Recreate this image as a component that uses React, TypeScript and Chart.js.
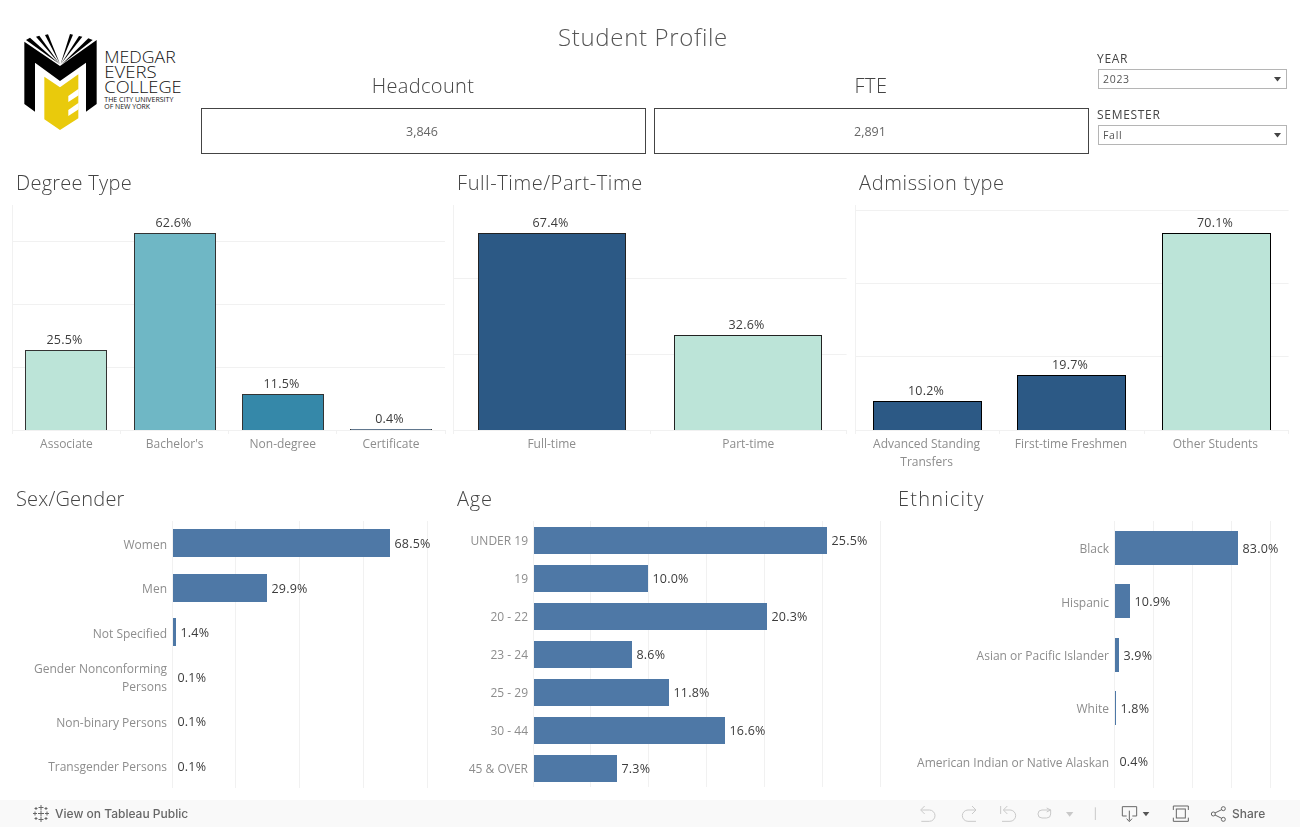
import React, { useEffect, useRef } from "react";
import { Chart, registerables } from "chart.js";

Chart.register(...registerables);

const FONT = '"Open Sans", sans-serif';
const GRID = "#f1f1f1";
const TICK = "#8d8d8d";
const VALUE = "#3c3c3c";
const MINT = "#bce4d8";
const TEAL = "#6fb7c5";
const OCEAN = "#3588a9";
const NAVY = "#2c5985";
const BLUE = "#4e78a6";

const headcountValue = "3,846";
const fteValue = "2,891";
const yearValue = "2023";
const semesterValue = "Fall";

const degreeLabels = ["Associate", "Bachelor's", "Non-degree", "Certificate"];
const degreeValues = [25.5, 62.6, 11.5, 0.4];
const degreeColors = [MINT, TEAL, OCEAN, NAVY];

const loadLabels = ["Full-time", "Part-time"];
const loadValues = [67.4, 32.6];
const loadColors = [NAVY, MINT];

const admissionLabels = [["Advanced Standing", "Transfers"], "First-time Freshmen", "Other Students"];
const admissionValues = [10.2, 19.7, 70.1];
const admissionColors = [NAVY, NAVY, MINT];

const genderLabels = ["Women", "Men", "Not Specified", ["Gender Nonconforming", "Persons"], "Non-binary Persons", "Transgender Persons"];
const genderValues = [68.5, 29.9, 1.4, 0.1, 0.1, 0.1];

const ageLabels = ["UNDER 19", "19", "20 - 22", "23 - 24", "25 - 29", "30 - 44", "45 & OVER"];
const ageValues = [25.5, 10.0, 20.3, 8.6, 11.8, 16.6, 7.3];

const ethnicityLabels = ["Black", "Hispanic", "Asian or Pacific Islander", "White", "American Indian or Native Alaskan"];
const ethnicityValues = [83.0, 10.9, 3.9, 1.8, 0.4];

type BarProps = {
  labels: any[];
  values: number[];
  colors: string | string[];
  horizontal?: boolean;
  max: number;
  step: number;
  thickness: number;
  border?: string;
  shift?: number;
  left: number;
  top: number;
  width: number;
  height: number;
  plotLeft: number;
  plotTop: number;
  plotRight: number;
  plotBottom: number;
};

const valueLabels = {
  id: "valueLabels",
  beforeDatasetsDraw(chart: any) {
    const horizontal = chart.options.indexAxis === "y";
    chart.getDatasetMeta(0).data.forEach((el: any) => {
      el.base = Math.round(el.base);
      if (horizontal) {
        el.x = Math.max(el.base, Math.floor(el.x));
        el.y = Math.round(el.y - el.height / 2) + el.height / 2;
      } else {
        el.y = Math.round(el.y);
        el.x = Math.round(el.x - el.width / 2) + el.width / 2;
      }
    });
  },
  afterDatasetsDraw(chart: any) {
    const { ctx } = chart;
    const horizontal = chart.options.indexAxis === "y";
    const values = chart.data.datasets[0].data as number[];
    const elements = chart.getDatasetMeta(0).data;
    ctx.save();
    ctx.font = `12.5px ${FONT}`;
    ctx.letterSpacing = "0.2px";
    ctx.fillStyle = VALUE;
    elements.forEach((el: any, i: number) => {
      const text = `${values[i].toFixed(1)}%`;
      if (horizontal) {
        ctx.textAlign = "left";
        ctx.textBaseline = "middle";
        ctx.fillText(text, el.x + 4.5, el.y + 1);
      } else {
        ctx.textAlign = "center";
        ctx.textBaseline = "bottom";
        ctx.fillText(text, el.x - 1.5, el.y - 3.5);
      }
    });
    ctx.restore();
  },
};

function BarChart(p: BarProps) {
  const ref = useRef<HTMLCanvasElement>(null);
  useEffect(() => {
    const axisFont = { family: FONT, size: 12, lineHeight: 1.5 };
    const buildTicks = (scale: any) => {
      const out: { value: number }[] = [];
      for (let i = 0; i * p.step <= p.max + 0.001; i++) out.push({ value: i * p.step });
      scale.ticks = out;
    };
    const noPadding = (scale: any) => {
      scale.paddingLeft = 0;
      scale.paddingRight = 0;
      scale.paddingTop = 0;
      scale.paddingBottom = 0;
    };
    const fixWidth = (scale: any) => {
      scale.width = p.plotLeft - p.left;
      noPadding(scale);
    };
    const fixHeight = (scale: any) => {
      scale.height = p.top + p.height - p.plotBottom;
      noPadding(scale);
    };
    const valueAxis: any = {
      type: "linear",
      min: 0,
      max: p.max,
      afterBuildTicks: buildTicks,
      ticks: { display: false },
      grid: { color: GRID, drawTicks: false },
      border: { display: !p.horizontal, color: GRID },
    };
    const categoryAxis: any = {
      type: "category",
      offset: true,
      ticks: {
        color: TICK,
        font: axisFont,
        autoSkip: false,
        maxRotation: 0,
        padding: p.horizontal ? 5 : 2,
        labelOffset: p.horizontal ? 2 : p.shift ?? 0,
      },
      grid: p.horizontal
        ? { display: false, drawTicks: false }
        : { offset: true, drawOnChartArea: false, color: GRID, tickLength: 4 },
      border: { display: !p.horizontal, color: GRID },
    };
    const x = p.horizontal ? { ...valueAxis, afterFit: fixHeight } : { ...categoryAxis, afterFit: fixHeight };
    const y = p.horizontal ? { ...categoryAxis, afterFit: fixWidth } : { ...valueAxis, afterFit: fixWidth };
    const chart = new Chart(ref.current!, {
      type: "bar",
      data: {
        labels: p.labels,
        datasets: [
          {
            data: p.values,
            backgroundColor: p.colors,
            borderColor: p.border ?? "transparent",
            borderWidth: p.border ? 1 : 0,
            barThickness: p.thickness,
            inflateAmount: 0,
          },
        ],
      },
      options: {
        indexAxis: p.horizontal ? "y" : "x",
        animation: false,
        responsive: false,
        layout: {
          padding: {
            left: 0,
            top: p.plotTop - p.top,
            right: p.left + p.width - p.plotRight,
            bottom: 0,
          },
        },
        plugins: { legend: { display: false }, tooltip: { enabled: false }, title: { display: false } },
        scales: { x, y },
      } as any,
      plugins: [valueLabels],
    });
    return () => chart.destroy();
  }, []);
  return (
    <canvas
      ref={ref}
      width={p.width}
      height={p.height}
      style={{ position: "absolute", left: p.left, top: p.top, width: p.width, height: p.height }}
    />
  );
}

function Txt(props: { x: number; y: number; size: number; color?: string; weight?: number; center?: boolean; children: any; font?: string; ls?: number }) {
  const { x, y, size, color = "#444", weight = 300, center, children, font = FONT, ls = 0 } = props;
  return (
    <div
      style={{
        position: "absolute",
        left: x,
        top: y,
        transform: center ? "translate(-50%,-50%)" : "translateY(-50%)",
        willChange: "transform",
        fontFamily: font,
        fontSize: size,
        color,
        fontWeight: weight,
        letterSpacing: ls,
        lineHeight: 1.2,
        whiteSpace: "nowrap",
      }}
    >
      {children}
    </div>
  );
}

function Box(props: { left: number; top: number; width: number; height: number; border: string }) {
  const { left, top, width, height, border } = props;
  return <div style={{ position: "absolute", left, top, width, height, boxSizing: "border-box", border: `1px solid ${border}` }} />;
}

function Dropdown(props: { label: string; value: string; y: number }) {
  const { label, value, y } = props;
  return (
    <>
      <Txt x={1097} y={y} size={12} color="#444" weight={400} ls={0.7}>{label}</Txt>
      <Box left={1098} top={y + 10} width={189} height={20} border="#b5b5b5" />
      <Txt x={1103} y={y + 20} size={10.5} color="#555" weight={400} ls={0.7}>{value}</Txt>
      <svg style={{ position: "absolute", left: 1274, top: y + 18 }} width={8} height={5}>
        <polygon points="0,0 7,0 3.5,4.5" fill="#444" />
      </svg>
    </>
  );
}

function Logo() {
  const rays = [
    "48,30 60,23 148,102",
    "78,20 88,17 149,102",
    "105,15 114,13 150,102",
    "180,12 189,14 152,102",
    "207,18 217,20 153,102",
    "235,25 248,30 154,104",
  ];
  const word = { fontFamily: FONT, fontWeight: 300, fill: "#111" };
  return (
    <svg style={{ position: "absolute", left: 0, top: 0 }} width={200} height={140}>
      <g transform="translate(10,30) scale(0.33333)">
        {rays.map((r) => (
          <polygon key={r} points={r} fill="#000" />
        ))}
        <polygon points="43,35 150,108 260,30 260,222 228,245 228,98 150,153 75,98 75,245 43,222" fill="#000" />
        <polygon points="103,140 150,172 205,133 205,265 150,300 103,268" fill="#e9ca0c" />
        <polygon points="206,176 175,198 175,216 206,196" fill="#fff" />
        <polygon points="206,218 175,240 175,258 206,238" fill="#fff" />
        <text x={283} y={98} fontSize={50} textLength={214} lengthAdjust="spacingAndGlyphs" {...word}>MEDGAR</text>
        <text x={283} y={144} fontSize={50} textLength={157} lengthAdjust="spacingAndGlyphs" {...word}>EVERS</text>
        <text x={283} y={190} fontSize={50} textLength={232} lengthAdjust="spacingAndGlyphs" {...word}>COLLEGE</text>
        <text x={283} y={216} fontSize={20} textLength={207} lengthAdjust="spacingAndGlyphs" {...word} fontWeight={400}>THE CITY UNIVERSITY</text>
        <text x={283} y={238} fontSize={20} textLength={137} lengthAdjust="spacingAndGlyphs" {...word} fontWeight={400}>OF NEW YORK</text>
      </g>
    </svg>
  );
}

function Toolbar() {
  const plus = [
    [41, 813.5, 3], [41, 807.5, 2.5], [41, 819.5, 2.5], [35, 813.5, 2], [47, 813.5, 2],
    [36, 808.5, 1.5], [46, 808.5, 1.5], [36, 818.5, 1.5], [46, 818.5, 1.5],
  ];
  const faint = { fill: "none", stroke: "#c9c9c9", strokeWidth: 3 };
  const dark = { fill: "none", stroke: "#666", strokeWidth: 3 };
  return (
    <>
      <div style={{ position: "absolute", left: 0, top: 800, width: 1300, height: 27, background: "#f9f9f9" }} />
      <svg style={{ position: "absolute", left: 0, top: 790 }} width={1300} height={37} viewBox="0 790 1300 37">
        {plus.map(([x, y, r]) => (
          <path key={`${x}-${y}`} d={`M${x - r} ${y}H${x + r}M${x} ${y - r}V${y + r}`} stroke="#666" strokeWidth={1} fill="none" />
        ))}
        <g transform="translate(880,790) scale(0.33333)">
          <path d="M124 60H148A17 17 0 0 1 148 94H124M134 48L122 60L134 72" {...faint} />
          <path d="M288 60H264A17 17 0 0 0 264 94H288M276 48L288 60L276 72" {...faint} />
          <path d="M372 60H390A17 17 0 0 1 390 94H366M382 48L370 60L382 72M362 48V72" {...faint} />
          <path d="M512 60H486A12 12 0 0 0 486 84H500A12 12 0 0 0 512 72V60M500 54L512 60L500 66" {...faint} />
          <polygon points="558,66 580,66 569,80" fill="#c9c9c9" />
          <path d="M646 52V90" {...faint} />
          <path d="M740 78H727V50H770V78H757M748 62V92M740 86L748 95L756 86" {...dark} />
          <polygon points="788,66 808,66 798,79" fill="#555" />
          <path d="M880 60V48H925V60M880 83V94H925V83" {...dark} />
          <rect x={889} y={57} width={27} height={27} {...dark} />
          <circle cx={1000} cy={72} r={6} {...dark} />
          <circle cx={1030} cy={56} r={6} {...dark} />
          <circle cx={1030} cy={88} r={6} {...dark} />
          <path d="M1005 69L1025 59M1005 75L1025 85" {...dark} />
        </g>
      </svg>
      <Txt x={55} y={814} size={12} color="#666" weight={500} font="Inter, sans-serif">View on Tableau Public</Txt>
      <Txt x={1232} y={814} size={12} color="#666" weight={500} font="Inter, sans-serif">Share</Txt>
    </>
  );
}

export default function App() {
  useEffect(() => {
    document.body.style.margin = "0";
  }, []);
  return (
    <div style={{ position: "absolute", left: 0, top: 0, width: 1300, height: 827, overflow: "hidden", background: "#fff" }}>
      <Logo />
      <Txt x={643} y={37} size={24} center color="#555" ls={0.67}>Student Profile</Txt>
      <Txt x={423} y={86} size={20} center color="#444" ls={0.33}>Headcount</Txt>
      <Txt x={871} y={86} size={20} center color="#444" ls={0.5}>FTE</Txt>
      <Box left={201} top={108} width={445} height={46} border="#444" />
      <Box left={654} top={108} width={435} height={46} border="#444" />
      <Txt x={422} y={131} size={12.5} center color="#666" weight={400}>{headcountValue}</Txt>
      <Txt x={870} y={131} size={12.5} center color="#666" weight={400}>{fteValue}</Txt>
      <Dropdown label="YEAR" value={yearValue} y={59} />
      <Dropdown label="SEMESTER" value={semesterValue} y={115} />

      <Txt x={16} y={183} size={20} ls={0.27}>Degree Type</Txt>
      <Txt x={457} y={183} size={20} ls={0.58}>Full-Time/Part-Time</Txt>
      <Txt x={859} y={183} size={20} ls={0.64}>Admission type</Txt>
      <Txt x={16} y={499} size={20} ls={0.2}>Sex/Gender</Txt>
      <Txt x={457} y={499} size={20} ls={0.75}>Age</Txt>
      <Txt x={898} y={499} size={20} ls={1.2}>Ethnicity</Txt>

      <BarChart labels={degreeLabels} values={degreeValues} colors={degreeColors} max={71.5} step={20} thickness={82} border="#333"
        left={0} top={200} width={450} height={272} plotLeft={12.4} plotTop={205} plotRight={445} plotBottom={430} />
      <BarChart labels={loadLabels} values={loadValues} colors={loadColors} max={77} step={26} thickness={148} border="#222"
        left={450} top={200} width={402} height={272} plotLeft={453.4} plotTop={205} plotRight={846.6} plotBottom={430} />
      <BarChart labels={admissionLabels} values={admissionValues} colors={admissionColors} max={80} step={26} thickness={109} border="#000" shift={-1}
        left={852} top={200} width={440} height={272} plotLeft={855.4} plotTop={205} plotRight={1288.6} plotBottom={430} />

      <BarChart horizontal labels={genderLabels} values={genderValues} colors={BLUE} max={80} step={20} thickness={28}
        left={0} top={516} width={450} height={276} plotLeft={172} plotTop={521} plotRight={427} plotBottom={788} />
      <BarChart horizontal labels={ageLabels} values={ageValues} colors={BLUE} max={30} step={5} thickness={27}
        left={450} top={516} width={435} height={276} plotLeft={533} plotTop={521} plotRight={880} plotBottom={787} />
      <BarChart horizontal labels={ethnicityLabels} values={ethnicityValues} colors={BLUE} max={104} step={26} thickness={34}
        left={885} top={516} width={410} height={276} plotLeft={1114} plotTop={521} plotRight={1270} plotBottom={788} />

      <Toolbar />
    </div>
  );
}
